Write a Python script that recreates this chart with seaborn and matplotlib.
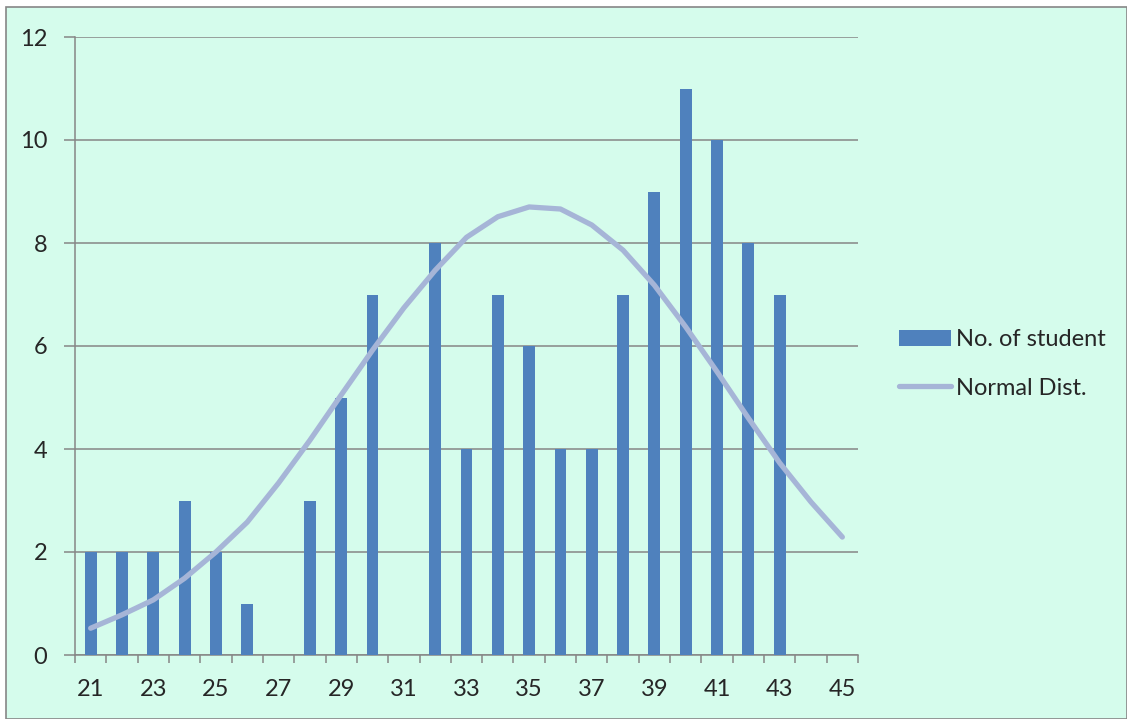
import numpy as np
import pandas as pd
import matplotlib
matplotlib.use("Agg")
import matplotlib.pyplot as plt
import seaborn as sns
from matplotlib.patches import Rectangle

categories = ["21", "22", "23", "24", "25", "26", "27", "28", "29", "30", "31", "32", "33",
              "34", "35", "36", "37", "38", "39", "40", "41", "42", "43", "44", "45"]
students = [2, 2, 2, 3, 2, 1, 0, 3, 5, 7, 0, 8, 4, 7, 6, 4, 4, 7, 9, 11, 10, 8, 7, 0, 0]
normal_dist = [0.52, 0.78, 1.07, 1.49, 2.0, 2.58, 3.34, 4.17, 5.05, 5.92, 6.74, 7.47, 8.11,
               8.51, 8.70, 8.66, 8.35, 7.86, 7.18, 6.37, 5.5, 4.6, 3.73, 2.97, 2.29]
y_ticks = [0, 2, 4, 6, 8, 10, 12]

sns.set_theme(style="white")
plt.rcParams["font.family"] = ["Lato", "DejaVu Sans"]

BG = "#D5FCEC"
BAR = "#4F81BD"
LINE = "#A6B5D7"
GRID = "#868686"
FS = 17

df = pd.DataFrame({"cat": categories, "students": students, "normal": normal_dist})
df["pos"] = np.arange(len(df))

fig = plt.figure(figsize=(11.27, 7.19), dpi=100)
fig.patch.set_facecolor("white")
bg = Rectangle((6 / 1127, 0.0), 1 - 6 / 1127, 1 - 7 / 719, transform=fig.transFigure,
               facecolor=BG, edgecolor=GRID, linewidth=1.2, zorder=-10)
fig.patches.append(bg)

ax = fig.add_axes([75 / 1127, 64 / 719, 783 / 1127, 618 / 719])
ax.set_zorder(1)
ax.patch.set_visible(False)

sns.barplot(data=df, x="cat", y="students", order=categories, color=BAR, width=0.38,
            saturation=1, ax=ax, label="No. of student", zorder=3, linewidth=0)
sns.lineplot(x=df["pos"], y=df["normal"], color=LINE, linewidth=3.8, ax=ax,
             label="Normal Dist.", zorder=4, solid_capstyle="round")

ax.set_xlim(-0.5, len(categories) - 0.5)
ax.set_ylim(0, 12)
ax.set_yticks(y_ticks)
ax.set_yticklabels([str(t) for t in y_ticks], fontsize=FS)
for t in y_ticks:
    ax.axhline(t, color=GRID, linewidth=1.1, zorder=1)

ax.set_xticks(np.arange(len(categories) + 1) - 0.5)
ax.set_xticklabels([])
ax.set_xticks(np.arange(0, len(categories), 2), minor=True)
ax.set_xticklabels(categories[::2], minor=True, fontsize=FS)
ax.tick_params(axis="x", which="major", length=6, width=1.1, color=GRID, direction="out", bottom=True)
ax.tick_params(axis="x", which="minor", length=0, pad=17, bottom=True)
ax.tick_params(axis="y", length=8, width=1.1, color=GRID, direction="out", left=True, pad=12)

for s in ["top", "right"]:
    ax.spines[s].set_visible(False)
for s in ["left", "bottom"]:
    ax.spines[s].set_color(GRID)
    ax.spines[s].set_linewidth(1.1)
ax.set_xlabel("")
ax.set_ylabel("")

handles, labels = ax.get_legend_handles_labels()
order = [labels.index("No. of student"), labels.index("Normal Dist.")]
ax.legend([handles[i] for i in order], [labels[i] for i in order],
          loc="center left", bbox_to_anchor=(899 / 1127, 1 - 364 / 719), bbox_transform=fig.transFigure,
          frameon=False, fontsize=FS, handlelength=2.2, handletextpad=0.2, labelspacing=1.15,
          borderaxespad=0, borderpad=0)

fig.savefig("out.png", dpi=100, facecolor="white")
